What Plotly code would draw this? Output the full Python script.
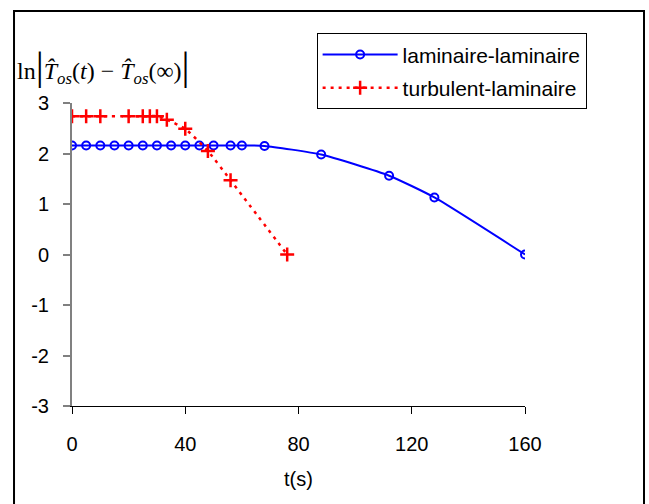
import plotly.graph_objects as go

# Data
lam_t = [0, 5, 10, 15, 20, 25, 30, 35, 40, 45, 50, 56, 60, 68, 88, 112, 128, 160]
lam_y = [2.16, 2.16, 2.16, 2.16, 2.16, 2.16, 2.16, 2.16, 2.16, 2.16, 2.16, 2.16, 2.16, 2.15, 1.98, 1.56, 1.13, 0.0]

turb_t = [0, 5, 10, 20, 25, 27.5, 30, 33.5, 40, 48, 56, 76]
turb_y = [2.74, 2.74, 2.74, 2.74, 2.74, 2.74, 2.74, 2.67, 2.49, 2.05, 1.47, 0.0]

x_ticks = [0, 40, 80, 120, 160]
y_ticks = [-3, -2, -1, 0, 1, 2, 3]

FONT = "Arial, Liberation Sans, sans-serif"
SERIF = "Times New Roman, Liberation Serif, serif"

fig = go.Figure()
fig.add_trace(go.Scatter(
    x=lam_t, y=lam_y, name="laminaire-laminaire", mode="lines+markers",
    legendgroup="a",
    line=dict(color="#0000FF", width=2, shape="spline", smoothing=0.5),
    marker=dict(symbol="circle-open", size=8, color="#0000FF", line=dict(width=2, color="#0000FF")),
))
fig.add_trace(go.Scatter(
    x=turb_t, y=turb_y, name="turbulent-laminaire", mode="lines+markers",
    legendgroup="b",
    line=dict(color="#FF0000", width=2.5, dash="3px,5px", shape="spline", smoothing=0.4),
    marker=dict(symbol="cross-thin", size=10, color="#FF0000", line=dict(width=2.5, color="#FF0000")),
))

fig.update_layout(
    width=649, height=504,
    margin=dict(l=72, r=124, t=103, b=98, autoexpand=False),
    paper_bgcolor="white", plot_bgcolor="white",
    font=dict(family=FONT, size=20, color="black"),
    showlegend=True,
    legend=dict(
        x=0.540, y=1.230, xanchor="left", yanchor="top",
        bordercolor="black", borderwidth=1, bgcolor="white",
        font=dict(family=FONT, size=21, color="black"),
        itemwidth=75, traceorder="grouped", tracegroupgap=3,
    ),
    xaxis=dict(
        range=[0, 160], tickvals=x_ticks, ticktext=[str(v) for v in x_ticks],
        showgrid=False, zeroline=False, showline=True, linecolor="black", linewidth=1,
        ticks="outside", ticklen=7, tickcolor="black", tickwidth=1,
        ticklabelstandoff=13, automargin=False,
        title=dict(text="t(s)", font=dict(size=20), standoff=17),
    ),
    yaxis=dict(
        range=[-3, 3], tickvals=y_ticks, ticktext=[str(v) for v in y_ticks],
        showgrid=False, zeroline=False, showline=True, linecolor="#808080", linewidth=2,
        ticks="outside", ticklen=7, tickcolor="#808080", tickwidth=2,
        ticklabelstandoff=10, automargin=False,
    ),
    shapes=[dict(type="rect", xref="paper", yref="paper",
                 x0=-0.128, x1=1.2627, y0=-0.40, y1=1.3036,
                 line=dict(color="black", width=2), fillcolor="rgba(0,0,0,0)", layer="below")],
    annotations=[dict(
        xref="paper", yref="paper", x=-0.126, y=1.125, xanchor="left", yanchor="middle",
        showarrow=False,
        font=dict(family=SERIF, size=24, color="black"),
        text="ln<span style='font-size:40px'>|</span><i>T\u0302</i><sub><i>os</i></sub>(<i>t</i>) \u2212 <i>T\u0302</i><sub><i>os</i></sub>(\u221e)<span style='font-size:40px'>|</span>",
    )],
)

fig.write_html("out.html", config={"displayModeBar": False},
               post_script="document.body.style.margin='0';")
